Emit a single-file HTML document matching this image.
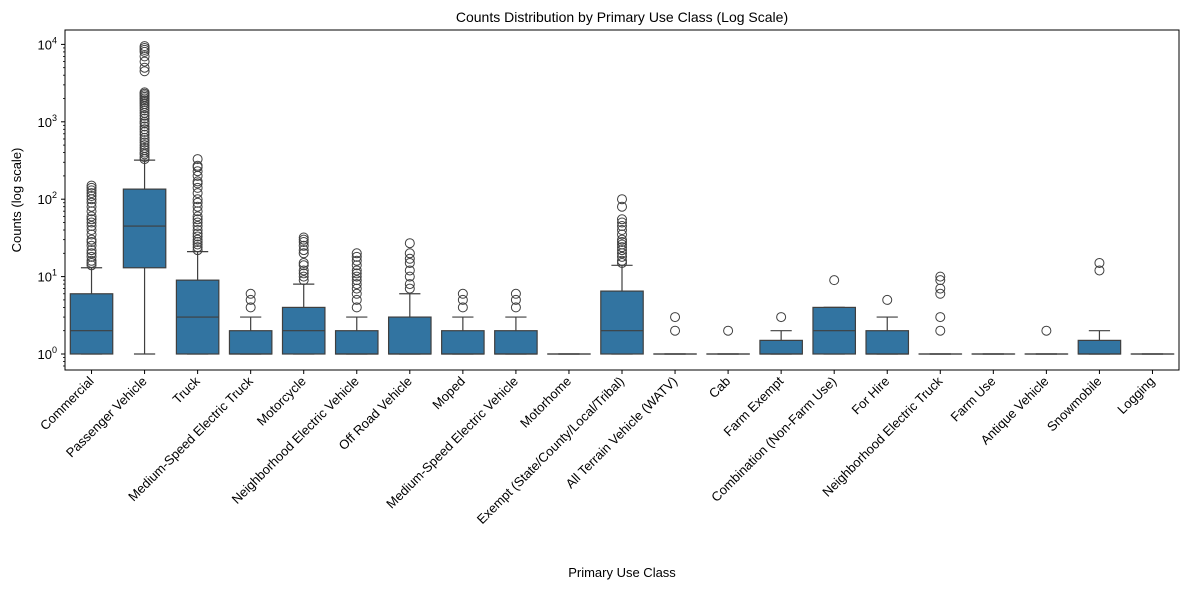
<!DOCTYPE html>
<html><head><meta charset="utf-8"><style>
body{margin:0;background:#fff}
svg{font-family:"Liberation Sans","DejaVu Sans",sans-serif}
</style></head><body>
<svg id="chart" width="1189" height="590" xmlns="http://www.w3.org/2000/svg"></svg>
<script>
const categories=["Commercial","Passenger Vehicle","Truck","Medium-Speed Electric Truck","Motorcycle","Neighborhood Electric Vehicle","Off Road Vehicle","Moped","Medium-Speed Electric Vehicle","Motorhome","Exempt (State/County/Local/Tribal)","All Terrain Vehicle (WATV)","Cab","Farm Exempt","Combination (Non-Farm Use)","For Hire","Neighborhood Electric Truck","Farm Use","Antique Vehicle","Snowmobile","Logging"];
const q1s=[1,13,1,1,1,1,1,1,1,1,1,1,1,1,1,1,1,1,1,1,1];
const medians=[2,45,3,1,2,1,1,1,1,1,2,1,1,1,2,1,1,1,1,1,1];
const q3s=[6,135,9,2,4,2,3,2,2,1,6.5,1,1,1.5,4,2,1,1,1,1.5,1];
const whiskerLows=[1,1,1,1,1,1,1,1,1,1,1,1,1,1,1,1,1,1,1,1,1];
const whiskerHighs=[13,320,21,3,8,3,6,3,3,1,14,1,1,2,4,3,1,1,1,2,1];
const fliers=[
[14,15,16,18,20,22,25,28,30,35,40,45,50,55,60,70,80,90,100,110,120,130,140,150],
[330,350,380,400,430,460,500,540,580,620,680,740,800,870,950,1000,1100,1200,1300,1400,1500,1600,1700,1800,1900,2000,2100,2200,2300,2400,4500,5000,6000,7000,8000,8500,9000,9500],
[22,24,26,28,30,33,36,40,45,50,55,60,70,80,90,100,120,140,160,170,200,230,260,270,330],
[4,5,6],
[9,10,11,12,14,15,20,22,25,28,30,32],
[4,5,6,7,8,9,10,11,12,14,16,18,20],
[7,8,10,12,15,17,20,27],
[4,5,6],
[4,5,6],
[],
[15,16,18,20,22,24,26,28,30,35,40,45,50,55,80,100],
[2,3],
[2],
[3],
[9],
[5],
[2,3,6,7,9,10],
[],
[2],
[12,15],
[]
];
const yTickLabels=["0","1","2","3","4"];

const L=65,R=1179,T=30,B=370;
const y0=354,dec=77.4;
function yS(v){return y0-Math.log10(v)*dec;}
const step=(R-L)/categories.length;
function xS(i){return L+step*(i+0.5);}
const svg=document.getElementById('chart');
const NS="http://www.w3.org/2000/svg";
function mk(tag,at,parent){const e=document.createElementNS(NS,tag);for(const k in at)e.setAttribute(k,at[k]);(parent||svg).appendChild(e);return e;}
const col="#3f3f3f";
const bw=step*0.8;
categories.forEach((c,i)=>{
  const g=mk('g',{});
  
  
  const x=xS(i);
  mk('line',{x1:x,x2:x,y1:yS(whiskerLows[i]),y2:yS(q1s[i]),stroke:col,'stroke-width':1.2},g);
  mk('line',{x1:x,x2:x,y1:yS(q3s[i]),y2:yS(whiskerHighs[i]),stroke:col,'stroke-width':1.2},g);
  mk('line',{x1:x-bw/4,x2:x+bw/4,y1:yS(whiskerLows[i]),y2:yS(whiskerLows[i]),stroke:col,'stroke-width':1.2},g);
  mk('line',{x1:x-bw/4,x2:x+bw/4,y1:yS(whiskerHighs[i]),y2:yS(whiskerHighs[i]),stroke:col,'stroke-width':1.2},g);
  const yt=yS(q3s[i]),yb=yS(q1s[i]);
  mk('rect',{x:x-bw/2,y:yt,width:bw,height:Math.max(yb-yt,0.01),fill:'#3274a1',stroke:col,'stroke-width':1.2},g);
  mk('line',{x1:x-bw/2,x2:x+bw/2,y1:yS(medians[i]),y2:yS(medians[i]),stroke:col,'stroke-width':1.2},g);
  fliers[i].forEach(v=>{
    const f=mk('circle',{cx:x,cy:yS(v),r:4.5,fill:'none',stroke:col,'stroke-width':1},g);
    
    
  });
  const tk=mk('line',{x1:x,x2:x,y1:B,y2:B+4,stroke:'#000'});
  
  
  const t=mk('text',{x:x+3,y:B+12,'text-anchor':'end','font-size':13,transform:`rotate(-45 ${x+3} ${B+12})`});
  t.textContent=c;
  
  
});
// y ticks
yTickLabels.forEach(p=>{
  const y=yS(Math.pow(10,+p));
  mk('line',{x1:L-4,x2:L,y1:y,y2:y,stroke:'#000'});
  const t=mk('text',{x:L-8,y:y+5,'text-anchor':'end','font-size':13});
  
  
  t.innerHTML='10<tspan dy="-6" font-size="9">'+p+'</tspan>';
});
for(let d=-1;d<=4;d++)for(let m=2;m<=9;m++){
  const y=yS(m*Math.pow(10,d));
  if(y>T&&y<B)mk('line',{x1:L-2,x2:L,y1:y,y2:y,stroke:'#000','stroke-width':0.8});
}
const fr=mk('rect',{x:L,y:T,width:R-L,height:B-T,fill:'none',stroke:'#000','stroke-width':1});


const ti=mk('text',{x:(L+R)/2,y:22,'text-anchor':'middle','font-size':14});
ti.textContent='Counts Distribution by Primary Use Class (Log Scale)';


const xt=mk('text',{x:(L+R)/2,y:577,'text-anchor':'middle','font-size':13});
xt.textContent='Primary Use Class';


const yt=mk('text',{x:21,y:200,'text-anchor':'middle','font-size':13,transform:'rotate(-90 21 200)'});
yt.textContent='Counts (log scale)';


</script>
</body></html>
